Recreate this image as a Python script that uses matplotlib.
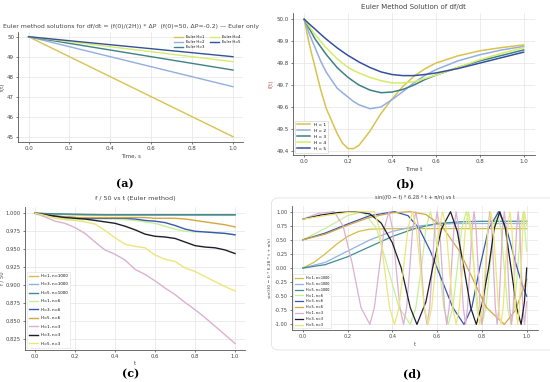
import matplotlib.pyplot as plt
from matplotlib.patches import FancyBboxPatch

# --- (a) Euler, straight lines ---
t_a = [0.0, 1.0]
a_H1 = [50.0, 45.0]
a_H2 = [50.0, 47.5]
a_H3 = [50.0, 48.333]
a_H4 = [50.0, 48.75]
a_H5 = [50.0, 49.0]

# --- (b) Euler method solution ---
t_b = [0, .025, .05, .075, .1, .15, .175, .2, .225, .25, .3, .35, .4, .45, .5, .55, .6, .7, .8, .9, 1.0]
b_H1 = [50.0, 49.88, 49.78, 49.68, 49.595, 49.48, 49.435, 49.41, 49.41, 49.425, 49.49, 49.57, 49.636,
        49.694, 49.74, 49.774, 49.80, 49.833, 49.856, 49.871, 49.883]
b_H2 = [50.0, 49.93, 49.87, 49.81, 49.76, 49.686, 49.665, 49.645, 49.625, 49.61, 49.592, 49.60, 49.633,
        49.67, 49.71, 49.744, 49.77, 49.81, 49.838, 49.86, 49.876]
b_H3 = [50.0, 49.955, 49.91, 49.875, 49.84, 49.78, 49.757, 49.735, 49.717, 49.70, 49.677, 49.665, 49.668,
        49.68, 49.70, 49.725, 49.745, 49.78, 49.81, 49.835, 49.86]
b_H4 = [50.0, 49.965, 49.93, 49.9, 49.87, 49.82, 49.80, 49.78, 49.767, 49.755, 49.735, 49.72, 49.71,
        49.71, 49.715, 49.73, 49.745, 49.78, 49.815, 49.845, 49.87]
b_H5 = [50.0, 49.977, 49.955, 49.932, 49.91, 49.87, 49.852, 49.835, 49.82, 49.805, 49.78, 49.76, 49.748,
        49.743, 49.743, 49.748, 49.755, 49.775, 49.80, 49.825, 49.85]

# --- (c) f/50 vs t ---
t_c = [0, .05, .1, .15, .2, .25, .3, .35, .4, .45, .5, .55, .6, .65, .7, .75, .8, .85, .9, .95, 1.0]
c_H1_n1000 = [1.0, .9993, .9987, .9982, .9978, .9975, .9973, .9972, .9972, .9971, .9971, .9971, .9971,
              .9971, .9971, .9971, .9971, .9971, .9971, .9971, .9971]
c_H3_n1000 = [1.0, .9995, .999, .9986, .9983, .998, .9978, .9977, .9976, .9976, .9976, .9976, .9976,
              .9976, .9976, .9976, .9976, .9976, .9976, .9976, .9976]
c_H5_n1000 = [1.0, .9996, .9992, .9989, .9986, .9984, .9982, .998, .998, .998, .998, .998, .998,
              .998, .998, .998, .998, .998, .998, .998, .998]
c_H1_n6 = [1.0, .997, .994, .992, .991, .991, .992, .992, .992, .991, .990, .988, .986, .982, .978,
           .975, .974, .974, .973, .972, .970]
c_H3_n6 = [1.0, .998, .996, .995, .994, .993, .993, .993, .993, .993, .992, .990, .989, .987, .983,
           .978, .975, .974, .973, .972, .970]
c_H5_n6 = [1.0, .998, .996, .995, .994, .994, .994, .994, .994, .994, .994, .994, .993, .993, .993,
           .992, .990, .988, .986, .984, .981]
c_H1_n3 = [1.0, .995, .989, .986, .980, .972, .960, .949, .943, .935, .922, .915, .906, .896, .887,
           .876, .866, .855, .843, .831, .819]
c_H3_n3 = [1.0, .998, .996, .994, .993, .992, .990, .988, .986, .982, .977, .971, .968, .967, .965,
           .960, .955, .953, .952, .949, .944]
c_H5_n3 = [1.0, .997, .993, .991, .990, .988, .985, .976, .966, .957, .954, .952, .942, .936, .933,
           .924, .919, .912, .905, .898, .892]

# --- (d) sin((f0 - f) * 6.28 * t + pi/n) vs t ---
d_H1_n1000_t = [0, .05, .1, .15, .2, .25, .3, .4, .5, 1.0]
d_H1_n1000 = [0, .1, .25, .42, .56, .65, .69, .70, .70, .70]
d_H3_n1000_t = [0, .1, .2, .3, .4, .5, .6, .7, 1.0]
d_H3_n1000 = [0, .1, .3, .5, .65, .74, .78, .79, .79]
d_H5_n1000_t = [0, .1, .2, .3, .4, .5, .6, .7, .8, 1.0]
d_H5_n1000 = [0, .06, .2, .38, .56, .70, .79, .82, .83, .83]
d_H1_n6_t = [0, .1, .2, .27, .33, .38, .43, .48, .505, .53, .55, .57, .59, .61, .63, .65, .67, .69, .71,
             .73, .748, .765, .783, .8, .818, .835, .853, .87, .885, .9, .915, .93, .945, .96, .973,
             .985, 1.0]
d_H1_n6 = [.5, .7, .93, 1.0, .7, 0, -.7, -1.0, -.7, 0, .7, 1.0, .7, 0, -.7, -1.0, -.7, 0, .7,
           1.0, .7, 0, -.7, -1.0, -.7, 0, .7, 1.0, .7, 0, -.7, -1.0, -.7, 0, .7,
           1.0, .3]
d_H3_n6_t = [0, .1, .2, .3, .41, .47, .52, .57, .62, .67, .72, .755, .79, .83, .875, .91, .95, .98, 1.0]
d_H3_n6 = [.5, .62, .78, .93, 1.0, .93, .7, .3, -.2, -.7, -1.0, -.7, 0, .7, 1.0, .7, .1, -.3, -.5]
d_H5_n6_t = [0, .1, .2, .3, .4, .48, .55, .62, .7, .76, .82, .9, .95, 1.0]
d_H5_n6 = [.5, .6, .76, .9, .98, 1.0, .95, .75, .3, -.2, -.7, -1.0, -.75, -.2]
d_H1_n3_t = [0, .07, .14, .18, .22, .26, .30,
             .32, .342, .364, .385, .401, .417, .434, .45,
             .464, .478, .491, .505, .518, .53, .543, .555,
             .567, .578, .589, .60, .611, .622, .633, .643,
             .654, .664, .675, .685, .696, .706, .717, .727,
             .736, .746, .756, .765, .774, .783, .792, .80,
             .809, .818, .827, .835, .844, .852, .86, .868,
             .876, .884, .892, .90, .908, .916, .924, .932,
             .94, .947, .955, .962, .969, .976, .983, .99, 1.0]
d_H1_n3 = [.866, .97, 1.0, .75, .1, -.7, -1.0,
           -.7, 0, .7, 1.0, .7, 0, -.7, -1.0,
           -.7, 0, .7, 1.0, .7, 0, -.7, -1.0,
           -.7, 0, .7, 1.0, .7, 0, -.7, -1.0,
           -.7, 0, .7, 1.0, .7, 0, -.7, -1.0,
           -.7, 0, .7, 1.0, .7, 0, -.7, -1.0,
           -.7, 0, .7, 1.0, .7, 0, -.7, -1.0,
           -.7, 0, .7, 1.0, .7, 0, -.7, -1.0,
           -.7, 0, .7, 1.0, .7, 0, -.7, -1.0, -.6]
d_H3_n3_t = [0, .08, .16, .24, .3, .35, .4, .44, .48, .51, .55, .58, .62, .66, .69, .72, .75, .775, .8,
             .83, .855, .88, .905, .93, .955, .975, .99, 1.0]
d_H3_n3 = [.866, .94, .985, 1.0, .96, .8, .45, 0, -.7, -1.0, -.6, 0, .7, 1.0, .65, 0, -.7, -1.0, -.65,
           0, .7, 1.0, .7, 0, -.7, -1.0, -.6, 0]
d_H5_n3_t = [0, .1, .2, .26, .32,
             .3425, .365, .3875, .41, .43, .45, .47, .49,
             .5075, .525, .5425, .56, .576, .593, .609, .625,
             .64, .655, .67, .685, .699, .713, .726, .74,
             .7525, .765, .7775, .79, .8025, .815, .8275, .84,
             .851, .8625, .874, .885, .895, .905, .915, .925,
             .934, .9425, .951, .96, .9675, .975, .9825, .99, 1.0]
d_H5_n3 = [.866, .93, .985, .999, 1.0,
           .7, 0, -.7, -1.0, -.7, 0, .7, 1.0,
           .7, 0, -.7, -1.0, -.7, 0, .7, 1.0,
           .7, 0, -.7, -1.0, -.7, 0, .7, 1.0,
           .7, 0, -.7, -1.0, -.7, 0, .7, 1.0,
           .7, 0, -.7, -1.0, -.7, 0, .7, 1.0,
           .7, 0, -.7, -1.0, -.7, 0, .7, 1.0, .75]

cols_ab = ["#d9c24e", "#93aee0", "#3f7f86", "#d4ec6a", "#34519c"]
cols_cd = ["#d6bc44", "#93b2e6", "#3f8c94", "#c6f096", "#3558b8",
           "#d6a640", "#dcb0d0", "#1e1e2a", "#ece67a"]
labels_cd = ["H=1, n=1000", "H=3, n=1000", "H=5, n=1000", "H=1, n=6", "H=3, n=6",
             "H=5, n=6", "H=1, n=3", "H=3, n=3", "H=5, n=3"]
txt = "#444444"


def style(ax, fs=4):
    ax.grid(True, color="#e4e4e4", linewidth=0.5)
    ax.set_axisbelow(True)
    for s in ["top", "right"]:
        ax.spines[s].set_visible(False)
    for s in ["left", "bottom"]:
        ax.spines[s].set_color("#555555")
        ax.spines[s].set_linewidth(0.6)
    ax.tick_params(labelsize=fs, colors=txt, length=1.5, width=0.5, pad=1.5)


fig = plt.figure(figsize=(5.5, 3.82), dpi=100)

# (a)
ax1 = fig.add_axes([0.0333, 0.629, 0.409, 0.288])
for y, c, h in zip([a_H1, a_H2, a_H3, a_H4, a_H5], cols_ab, range(1, 6)):
    ax1.plot(t_a, y, color=c, lw=1.0, label=f"Euler H={h}")
style(ax1)
ax1.set_xticks([0, .2, .4, .6, .8, 1.0])
ax1.set_xticklabels(["0.0", "0.2", "0.4", "0.6", "0.8", "1.0"])
ax1.set_title("Euler method solutions for df/dt = (f(0)/(2H)) * ΔP  (f(0)=50, ΔP=-0.2) — Euler only",
              fontsize=4.4, color=txt, pad=3)
ax1.set_xlabel("Time, s", fontsize=4, color=txt, labelpad=2)
ax1.set_ylabel("f(t)", fontsize=4, color=txt, labelpad=2)
ax1.legend(loc="upper right", ncol=2, fontsize=2.6, frameon=False, handlelength=2.5,
           labelspacing=0.3, columnspacing=1.5)

# (b)
ax2 = fig.add_axes([0.533, 0.594, 0.439, 0.3725])
for y, c, h in zip([b_H1, b_H2, b_H3, b_H4, b_H5], cols_ab, range(1, 6)):
    ax2.plot(t_b, y, color=c, lw=1.1, label=f"H = {h}")
style(ax2)
ax2.set_xticks([0, .2, .4, .6, .8, 1.0])
ax2.set_xticklabels(["0.0", "0.2", "0.4", "0.6", "0.8", "1.0"])
ax2.set_title("Euler Method Solution of df/dt", fontsize=5, color=txt, pad=3)
ax2.set_xlabel("Time t", fontsize=4, color=txt, labelpad=2)
ax2.set_ylabel("f(t)", fontsize=4, color="#c05050", labelpad=2)
ax2.legend(loc="lower left", fontsize=3.1, handlelength=3, labelspacing=0.45, borderpad=0.5,
           framealpha=1, edgecolor="#cccccc", fancybox=False).get_frame().set_linewidth(0.4)

# (c)
ax3 = fig.add_axes([0.0455, 0.0838, 0.4, 0.375])
c_series = [c_H1_n1000, c_H3_n1000, c_H5_n1000, c_H1_n6, c_H3_n6, c_H5_n6, c_H1_n3, c_H3_n3, c_H5_n3]
for y, c, lab in zip(c_series, cols_cd, labels_cd):
    ax3.plot(t_c, y, color=c, lw=1.0, label=lab)
style(ax3, 3.8)
ax3.set_xticks([0, .2, .4, .6, .8, 1.0])
ax3.set_xticklabels(["0.0", "0.2", "0.4", "0.6", "0.8", "1.0"])
ax3.set_yticks([.825, .85, .875, .9, .925, .95, .975, 1.0])
ax3.set_yticklabels(["0.825", "0.850", "0.875", "0.900", "0.925", "0.950", "0.975", "1.000"])
ax3.set_title("f / 50 vs t (Euler method)", fontsize=4.6, color=txt, pad=5)
ax3.set_xlabel("t", fontsize=4, color=txt, labelpad=1)
ax3.set_ylabel("f / 50", fontsize=3.8, color=txt, labelpad=1)
ax3.legend(loc="lower left", fontsize=2.8, handlelength=2.2, labelspacing=1.15, borderpad=0.6,
           framealpha=1, edgecolor="#dddddd", fancybox=False).get_frame().set_linewidth(0.4)

# (d) rounded frame around the panel
box = FancyBboxPatch((0.4936, 0.0838), 0.56, 0.398, boxstyle="round,pad=0,rounding_size=0.015",
                     transform=fig.transFigure, facecolor="none", edgecolor="#e2e2e2", lw=0.6,
                     zorder=-1)
fig.patches.append(box)
ax4 = fig.add_axes([0.530, 0.136, 0.448, 0.3246])
d_series = [(d_H1_n1000_t, d_H1_n1000), (d_H3_n1000_t, d_H3_n1000), (d_H5_n1000_t, d_H5_n1000),
            (d_H1_n6_t, d_H1_n6), (d_H3_n6_t, d_H3_n6), (d_H5_n6_t, d_H5_n6),
            (d_H1_n3_t, d_H1_n3), (d_H3_n3_t, d_H3_n3), (d_H5_n3_t, d_H5_n3)]
for (tt, y), c, lab in zip(d_series, cols_cd, labels_cd):
    ax4.plot(tt, y, color=c, lw=0.9, label=lab)
style(ax4, 3.6)
ax4.set_xticks([0, .2, .4, .6, .8, 1.0])
ax4.set_xticklabels(["0.0", "0.2", "0.4", "0.6", "0.8", "1.0"])
ax4.set_yticks([-1, -.75, -.5, -.25, 0, .25, .5, .75, 1.0])
ax4.set_yticklabels(["-1.00", "-0.75", "-0.50", "-0.25", "0.00", "0.25", "0.50", "0.75", "1.00"])
ax4.set_title("sin((f0 − f) * 6.28 * t + π/n) vs t", fontsize=3.6, color=txt, pad=5)
ax4.set_xlabel("t", fontsize=3.6, color=txt, labelpad=2)
ax4.set_ylabel("sin((f0 − f) * 6.28 * t + π/n)", fontsize=3.2, color=txt, labelpad=2)
ax4.legend(loc="lower left", fontsize=2.4, handlelength=2.5, labelspacing=0.55, borderpad=0.5,
           framealpha=1, edgecolor="#dddddd", fancybox=False).get_frame().set_linewidth(0.4)

# panel letters
for x, y, s in [(0.227, 0.52, "(a)"), (0.736, 0.52, "(b)"), (0.238, 0.022, "(c)"), (0.749, 0.022, "(d)")]:
    fig.text(x, y, s, fontsize=8, fontweight="bold", family="DejaVu Serif", ha="center", va="center")

plt.savefig("out.png", dpi=100)
plt.close()
